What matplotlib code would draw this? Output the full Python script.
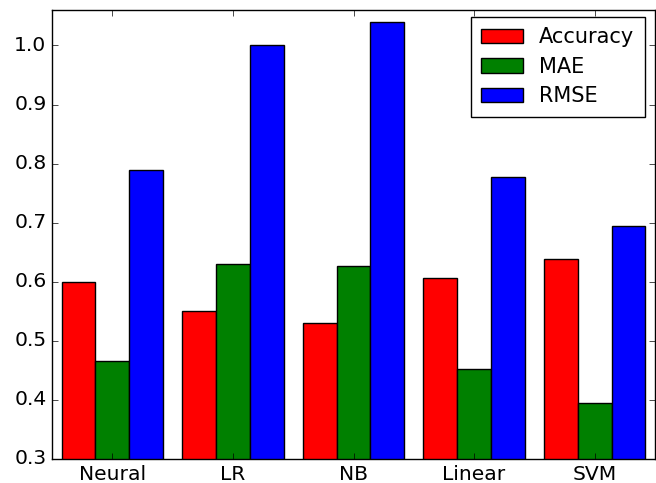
import numpy as np
import matplotlib
matplotlib.use('Agg')
import matplotlib.pyplot as plt

plt.style.use('classic')

# Data
models = ['Neural', 'LR', 'NB', 'Linear', 'SVM']
accuracy = [0.600, 0.550, 0.530, 0.607, 0.639]
mae = [0.466, 0.630, 0.626, 0.453, 0.395]
rmse = [0.790, 1.000, 1.040, 0.778, 0.694]

series = [('Accuracy', accuracy, 'r'), ('MAE', mae, 'g'), ('RMSE', rmse, 'b')]

fig = plt.figure(figsize=(6.56, 4.83), dpi=100, facecolor='white')
ax = fig.add_axes([52 / 656, 24 / 483, 603 / 656, 449 / 483])

x = np.arange(len(models))
w = 0.28
for k, (name, vals, col) in enumerate(series):
    ax.bar(x + (k - 1) * w, vals, w, color=col, edgecolor='black',
           linewidth=1, label=name, align='center')

ax.set_xlim(-0.5, len(models) - 0.5)
ax.set_ylim(0.3, 1.06)
ax.set_xticks(x)
ax.set_xticklabels(models)
ax.set_yticks(np.arange(0.3, 1.01, 0.1))
ax.yaxis.set_major_formatter(matplotlib.ticker.FormatStrFormatter('%.1f'))
ax.tick_params(labelsize=14.6)

leg = ax.legend(loc='upper right', bbox_to_anchor=(0.9834, 0.9844),
                borderaxespad=0, fontsize=15, fancybox=False,
                handlelength=2, borderpad=0.5, labelspacing=0.45)
leg.get_frame().set_linewidth(1)

fig.savefig('out.png', dpi=100, facecolor='white')
